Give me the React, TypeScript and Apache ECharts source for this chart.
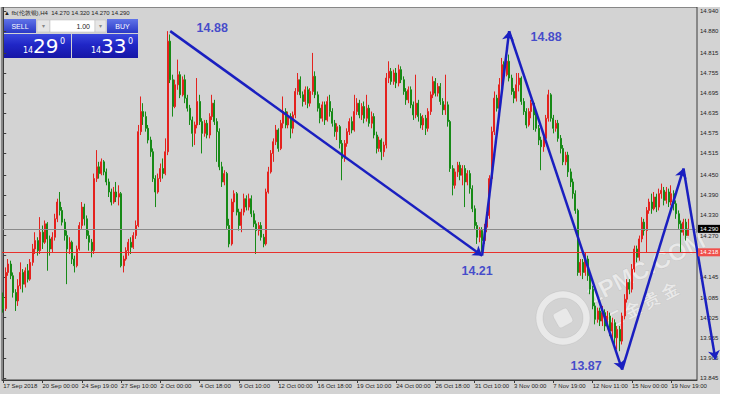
import React, { useEffect, useRef } from 'react';
import * as echarts from 'echarts';

// H4 candles, [open, close, low, high], oldest first
const block1 = [
  [14.087, 14.052, 14.040, 14.100], [14.052, 14.160, 14.045, 14.175], [14.160, 14.185, 14.150, 14.200],
  [14.185, 14.150, 14.140, 14.195], [14.150, 14.100, 14.085, 14.160], [14.100, 14.075, 14.045, 14.110],
  [14.075, 14.120, 14.060, 14.140], [14.120, 14.160, 14.110, 14.190], [14.160, 14.125, 14.100, 14.170],
  [14.125, 14.165, 14.115, 14.175], [14.165, 14.140, 14.130, 14.185], [14.140, 14.190, 14.135, 14.200],
  [14.190, 14.230, 14.180, 14.245], [14.230, 14.255, 14.215, 14.280], [14.255, 14.225, 14.210, 14.265],
  [14.225, 14.280, 14.215, 14.325], [14.280, 14.250, 14.230, 14.300], [14.250, 14.305, 14.245, 14.315],
  [14.305, 14.260, 14.165, 14.310], [14.260, 14.230, 14.210, 14.270], [14.230, 14.265, 14.220, 14.280],
  [14.265, 14.320, 14.255, 14.335], [14.320, 14.370, 14.310, 14.380], [14.370, 14.345, 14.330, 14.400],
  [14.345, 14.310, 14.300, 14.355], [14.310, 14.270, 14.255, 14.320], [14.270, 14.230, 14.125, 14.285],
  [14.230, 14.250, 14.215, 14.265], [14.250, 14.200, 14.185, 14.255], [14.200, 14.180, 14.160, 14.210],
];
const block2 = [
  [14.180, 14.230, 14.175, 14.240], [14.230, 14.300, 14.225, 14.310], [14.300, 14.355, 14.290, 14.370],
  [14.355, 14.320, 14.300, 14.365], [14.320, 14.270, 14.260, 14.330], [14.270, 14.250, 14.225, 14.285],
  [14.250, 14.225, 14.205, 14.260], [14.225, 14.440, 14.215, 14.455], [14.440, 14.475, 14.430, 14.525],
  [14.475, 14.455, 14.440, 14.490], [14.455, 14.490, 14.450, 14.500], [14.490, 14.460, 14.450, 14.495],
  [14.460, 14.430, 14.420, 14.470], [14.430, 14.400, 14.385, 14.440], [14.400, 14.370, 14.360, 14.410],
  [14.370, 14.400, 14.365, 14.415], [14.400, 14.385, 14.370, 14.430], [14.385, 14.395, 14.360, 14.420],
  [14.395, 14.180, 14.175, 14.400], [14.180, 14.200, 14.160, 14.210], [14.200, 14.225, 14.195, 14.235],
  [14.225, 14.250, 14.210, 14.260], [14.250, 14.235, 14.215, 14.265], [14.235, 14.270, 14.230, 14.280],
  [14.270, 14.300, 14.260, 14.315], [14.300, 14.580, 14.295, 14.600], [14.580, 14.640, 14.570, 14.685],
  [14.640, 14.625, 14.600, 14.665], [14.625, 14.590, 14.580, 14.640], [14.590, 14.555, 14.545, 14.600],
];
const block3 = [
  [14.555, 14.520, 14.505, 14.565], [14.520, 14.440, 14.430, 14.530], [14.440, 14.400, 14.355, 14.450],
  [14.400, 14.440, 14.395, 14.455], [14.440, 14.470, 14.430, 14.485], [14.470, 14.455, 14.440, 14.500],
  [14.455, 14.520, 14.450, 14.560], [14.520, 14.850, 14.510, 14.880], [14.850, 14.735, 14.725, 14.870],
  [14.735, 14.655, 14.625, 14.750], [14.655, 14.720, 14.650, 14.735], [14.720, 14.750, 14.705, 14.795],
  [14.750, 14.690, 14.680, 14.760], [14.690, 14.735, 14.685, 14.745], [14.735, 14.680, 14.665, 14.750],
  [14.680, 14.650, 14.640, 14.690], [14.650, 14.615, 14.600, 14.660], [14.615, 14.575, 14.535, 14.625],
  [14.575, 14.600, 14.540, 14.610], [14.600, 14.670, 14.590, 14.740], [14.670, 14.610, 14.600, 14.690],
  [14.610, 14.575, 14.515, 14.620], [14.575, 14.605, 14.565, 14.615], [14.605, 14.570, 14.560, 14.615],
  [14.570, 14.625, 14.560, 14.635], [14.625, 14.665, 14.615, 14.690], [14.665, 14.610, 14.600, 14.675],
  [14.610, 14.580, 14.490, 14.620], [14.580, 14.475, 14.465, 14.590], [14.475, 14.430, 14.415, 14.490],
];
const block4 = [
  [14.430, 14.455, 14.420, 14.465], [14.455, 14.300, 14.290, 14.460], [14.300, 14.245, 14.235, 14.320],
  [14.245, 14.370, 14.240, 14.380], [14.370, 14.395, 14.340, 14.405], [14.395, 14.340, 14.330, 14.400],
  [14.340, 14.300, 14.285, 14.350], [14.300, 14.340, 14.280, 14.350], [14.340, 14.380, 14.330, 14.395],
  [14.380, 14.355, 14.345, 14.390], [14.355, 14.380, 14.345, 14.395], [14.380, 14.335, 14.325, 14.390],
  [14.335, 14.305, 14.295, 14.345], [14.305, 14.285, 14.215, 14.315], [14.285, 14.300, 14.270, 14.310],
  [14.300, 14.265, 14.255, 14.310], [14.265, 14.245, 14.235, 14.275], [14.245, 14.400, 14.240, 14.410],
  [14.400, 14.460, 14.395, 14.475], [14.460, 14.515, 14.455, 14.525], [14.515, 14.550, 14.490, 14.560],
  [14.550, 14.585, 14.540, 14.600], [14.585, 14.530, 14.520, 14.590], [14.530, 14.605, 14.525, 14.615],
  [14.605, 14.640, 14.590, 14.685], [14.640, 14.600, 14.590, 14.650], [14.600, 14.625, 14.590, 14.640],
  [14.625, 14.590, 14.560, 14.635], [14.590, 14.630, 14.575, 14.640], [14.630, 14.700, 14.620, 14.710],
];
const block5 = [
  [14.700, 14.735, 14.690, 14.755], [14.735, 14.690, 14.680, 14.745], [14.690, 14.670, 14.655, 14.700],
  [14.670, 14.705, 14.660, 14.715], [14.705, 14.665, 14.650, 14.715], [14.665, 14.700, 14.655, 14.710],
  [14.700, 14.745, 14.690, 14.815], [14.745, 14.690, 14.680, 14.760], [14.690, 14.650, 14.640, 14.700],
  [14.650, 14.620, 14.605, 14.665], [14.620, 14.660, 14.610, 14.670], [14.660, 14.615, 14.600, 14.670],
  [14.615, 14.670, 14.610, 14.685], [14.670, 14.640, 14.625, 14.690], [14.640, 14.605, 14.595, 14.650],
  [14.605, 14.580, 14.565, 14.615], [14.580, 14.595, 14.555, 14.605], [14.595, 14.545, 14.530, 14.600],
  [14.545, 14.500, 14.435, 14.555], [14.500, 14.545, 14.490, 14.555], [14.545, 14.580, 14.535, 14.590],
  [14.580, 14.610, 14.570, 14.620], [14.610, 14.585, 14.575, 14.625], [14.585, 14.640, 14.580, 14.690],
  [14.640, 14.665, 14.630, 14.680], [14.665, 14.630, 14.620, 14.675], [14.630, 14.655, 14.615, 14.665],
  [14.655, 14.620, 14.605, 14.670], [14.620, 14.650, 14.610, 14.690], [14.650, 14.605, 14.595, 14.660],
];
const block6 = [
  [14.605, 14.625, 14.590, 14.640], [14.625, 14.570, 14.560, 14.635], [14.570, 14.530, 14.515, 14.580],
  [14.530, 14.555, 14.520, 14.565], [14.555, 14.520, 14.495, 14.560], [14.520, 14.540, 14.505, 14.550],
  [14.540, 14.740, 14.530, 14.755], [14.740, 14.760, 14.725, 14.790], [14.760, 14.730, 14.720, 14.770],
  [14.730, 14.755, 14.720, 14.765], [14.755, 14.725, 14.710, 14.770], [14.725, 14.765, 14.715, 14.780],
  [14.765, 14.735, 14.725, 14.775], [14.735, 14.700, 14.690, 14.745], [14.700, 14.675, 14.660, 14.710],
  [14.675, 14.705, 14.665, 14.715], [14.705, 14.660, 14.650, 14.715], [14.660, 14.630, 14.615, 14.670],
  [14.630, 14.665, 14.620, 14.750], [14.665, 14.625, 14.610, 14.675], [14.625, 14.600, 14.590, 14.635],
  [14.600, 14.620, 14.585, 14.630], [14.620, 14.590, 14.570, 14.630], [14.590, 14.640, 14.580, 14.650],
  [14.640, 14.690, 14.630, 14.700], [14.690, 14.730, 14.680, 14.745], [14.730, 14.695, 14.685, 14.740],
  [14.695, 14.715, 14.685, 14.725], [14.715, 14.670, 14.660, 14.725], [14.670, 14.645, 14.630, 14.680],
];
const block7 = [
  [14.645, 14.660, 14.630, 14.750], [14.660, 14.610, 14.595, 14.670], [14.610, 14.470, 14.460, 14.615],
  [14.470, 14.420, 14.390, 14.480], [14.420, 14.460, 14.410, 14.470], [14.460, 14.480, 14.445, 14.490],
  [14.480, 14.450, 14.435, 14.490], [14.450, 14.470, 14.420, 14.480], [14.470, 14.430, 14.355, 14.480],
  [14.430, 14.455, 14.420, 14.465], [14.455, 14.410, 14.395, 14.465], [14.410, 14.350, 14.340, 14.420],
  [14.350, 14.300, 14.290, 14.360], [14.300, 14.265, 14.245, 14.310], [14.265, 14.285, 14.250, 14.295],
  [14.285, 14.255, 14.220, 14.295], [14.255, 14.295, 14.245, 14.305], [14.295, 14.330, 14.280, 14.340],
  [14.330, 14.440, 14.320, 14.450], [14.440, 14.580, 14.430, 14.595], [14.580, 14.680, 14.570, 14.700],
  [14.680, 14.650, 14.640, 14.690], [14.650, 14.720, 14.640, 14.740], [14.720, 14.780, 14.710, 14.800],
  [14.780, 14.750, 14.735, 14.790], [14.750, 14.790, 14.745, 14.820], [14.790, 14.740, 14.730, 14.810],
  [14.740, 14.700, 14.690, 14.750], [14.700, 14.680, 14.665, 14.710], [14.680, 14.720, 14.670, 14.755],
];
const block8 = [
  [14.720, 14.740, 14.700, 14.755], [14.740, 14.670, 14.660, 14.745], [14.670, 14.640, 14.630, 14.680],
  [14.640, 14.600, 14.590, 14.650], [14.600, 14.640, 14.595, 14.650], [14.640, 14.665, 14.620, 14.675],
  [14.665, 14.630, 14.585, 14.670], [14.630, 14.590, 14.580, 14.640], [14.590, 14.555, 14.540, 14.600],
  [14.555, 14.535, 14.465, 14.565], [14.535, 14.560, 14.520, 14.570], [14.560, 14.620, 14.550, 14.630],
  [14.620, 14.690, 14.610, 14.705], [14.690, 14.620, 14.610, 14.695], [14.620, 14.590, 14.575, 14.630],
  [14.590, 14.605, 14.580, 14.615], [14.605, 14.560, 14.550, 14.615], [14.560, 14.530, 14.515, 14.570],
  [14.530, 14.490, 14.480, 14.540], [14.490, 14.510, 14.480, 14.520], [14.510, 14.460, 14.445, 14.520],
  [14.460, 14.430, 14.415, 14.470], [14.430, 14.395, 14.380, 14.440], [14.395, 14.345, 14.335, 14.405],
  [14.345, 14.160, 14.150, 14.350], [14.160, 14.190, 14.150, 14.200], [14.190, 14.160, 14.140, 14.200],
  [14.160, 14.200, 14.150, 14.220], [14.200, 14.150, 14.135, 14.210], [14.150, 14.110, 14.095, 14.160],
];
const block9 = [
  [14.110, 14.060, 14.050, 14.120], [14.060, 14.020, 14.005, 14.070], [14.020, 14.045, 14.010, 14.055],
  [14.045, 14.015, 14.000, 14.055], [14.015, 14.040, 14.000, 14.060], [14.040, 14.000, 13.985, 14.050],
  [14.000, 14.030, 13.990, 14.045], [14.030, 13.985, 13.970, 14.040], [13.985, 14.010, 13.960, 14.025],
  [14.010, 13.965, 13.945, 14.020], [13.965, 13.990, 13.930, 14.000], [13.990, 13.955, 13.925, 14.000],
  [13.955, 14.030, 13.945, 14.040], [14.030, 14.080, 14.020, 14.095], [14.080, 14.130, 14.070, 14.140],
  [14.130, 14.110, 14.095, 14.140], [14.110, 14.170, 14.100, 14.185], [14.170, 14.230, 14.160, 14.240],
  [14.230, 14.205, 14.190, 14.240], [14.205, 14.260, 14.195, 14.270], [14.260, 14.310, 14.250, 14.325],
  [14.310, 14.285, 14.270, 14.320], [14.285, 14.345, 14.220, 14.355], [14.345, 14.370, 14.335, 14.380],
  [14.370, 14.350, 14.335, 14.395], [14.350, 14.385, 14.345, 14.400], [14.385, 14.355, 14.340, 14.395],
  [14.355, 14.395, 14.345, 14.410], [14.395, 14.405, 14.380, 14.425], [14.405, 14.375, 14.360, 14.415],
];
const block10 = [
  [14.375, 14.400, 14.365, 14.415], [14.400, 14.370, 14.355, 14.410], [14.370, 14.395, 14.360, 14.420],
  [14.395, 14.365, 14.345, 14.405], [14.365, 14.335, 14.320, 14.375], [14.335, 14.305, 14.290, 14.345],
  [14.305, 14.280, 14.220, 14.315], [14.280, 14.310, 14.270, 14.320], [14.310, 14.270, 14.255, 14.320],
  [14.270, 14.290, 14.270, 14.320],
];

// time scale labels, one every 16 bars
const timeLabels = [
  '17 Sep 2018', '20 Sep 00:00', '24 Sep 19:00', '27 Sep 10:00', '2 Oct 00:00', '4 Oct 18:00',
  '9 Oct 10:00', '12 Oct 00:00', '16 Oct 18:00', '19 Oct 10:00', '24 Oct 00:00', '26 Oct 18:00',
  '31 Oct 10:00', '3 Nov 00:00', '7 Nov 19:00', '12 Nov 11:00', '15 Nov 00:00', '19 Nov 19:00',
];
const BARS_PER_LABEL = 16;
const SLOT_COUNT = 283;

// price scale
const priceLabels = [
  14.940, 14.880, 14.815, 14.755, 14.695, 14.635, 14.575, 14.515, 14.450,
  14.390, 14.330, 14.270, 14.145, 14.085, 14.025, 13.965, 13.905, 13.845,
];
const priceTickMarks = [...priceLabels, 14.210];
const PRICE_MIN = 13.839;
const PRICE_MAX = 14.952;

const bidPrice = 14.290;
const askPrice = 14.330;
const alertLevel = 14.218;
const symbolTitle = 'fb(伦敦银),H4';
const lotSize = '1.00';

// hand-drawn swing lines: vertex bar positions and prices
const swingBars = [68, 195, 206, 252, 277, 290];
const swingPrices = [14.88, 14.21, 14.88, 13.87, 14.47, 13.9];
const swingTagged = [0, 1, 2, 3];

const RED = '#e4221e';
const GREEN = '#178a17';
const BLUE = '#1a1fc0';
const FONT = '"Liberation Sans", Arial, sans-serif';

function splitQuote(p: number) {
  const s = p.toFixed(3);
  return { head: s.slice(0, 2), big: s.slice(3, 5), tail: s.slice(5) };
}

function buildOption() {
  const candles = [
    ...block1, ...block2, ...block3, ...block4, ...block5,
    ...block6, ...block7, ...block8, ...block9, ...block10,
  ];
  const slots = Array.from({ length: SLOT_COUNT }, (_, i) => String(i));
  const showSlot = (i: number) => i % BARS_PER_LABEL === 0 && i / BARS_PER_LABEL < timeLabels.length;

  const segments = [];
  for (let k = 0; k + 1 < swingBars.length; k++) {
    segments.push({ coords: [[swingBars[k], swingPrices[k]], [swingBars[k + 1], swingPrices[k + 1]]] });
  }
  const tagOffsets = [[42, -3], [-5, 15], [37, 6], [-36, -4]];
  const tags = swingTagged.map((v, k) => ({
    value: [swingBars[v], swingPrices[v]],
    label: { show: true, offset: tagOffsets[k], formatter: swingPrices[v].toFixed(2) },
  }));

  const last = candles[candles.length - 1];
  const header = `▲ ${symbolTitle}  ${last[0].toFixed(3)} ${last[3].toFixed(3)} ${last[2].toFixed(3)} ${last[1].toFixed(3)}`;
  const bid = splitQuote(bidPrice);
  const ask = splitQuote(askPrice);

  const btnGrad = () => new echarts.graphic.LinearGradient(0, 0, 0, 1, [
    { offset: 0, color: '#6074e8' }, { offset: 1, color: '#2a38c6' },
  ]);
  const boxGrad = () => new echarts.graphic.LinearGradient(0, 0, 0, 1, [
    { offset: 0, color: '#3a48de' }, { offset: 0.45, color: '#2026c6' }, { offset: 1, color: '#1616a6' },
  ]);

  const quoteBox = (x: number, w: number, q: { head: string; big: string; tail: string }) => [
    { type: 'rect', shape: { x, y: 34, width: w, height: 24 }, style: { fill: boxGrad() } },
    { type: 'text', style: { text: q.head, x: x + 19, y: 50.5, fill: '#fff', fontSize: 8, fontFamily: 'DejaVu Sans', align: 'left', verticalAlign: 'middle' } },
    { type: 'text', style: { text: q.big, x: x + 29, y: 46, fill: '#fff', fontSize: 20, fontFamily: 'DejaVu Sans', align: 'left', verticalAlign: 'middle' } },
    { type: 'text', style: { text: q.tail, x: x + 56, y: 41, fill: '#fff', fontSize: 8, fontFamily: 'DejaVu Sans', align: 'left', verticalAlign: 'middle' } },
  ];

  const panel = [
    { type: 'text', style: { text: header, x: 4, y: 12.5, fill: '#1e1e1e', fontSize: 6, fontFamily: FONT, align: 'left', verticalAlign: 'middle' } },
    { type: 'rect', shape: { x: 4, y: 19, width: 32, height: 14 }, style: { fill: btnGrad() } },
    { type: 'text', style: { text: 'SELL', x: 20, y: 26, fill: '#fff', fontSize: 7, fontFamily: FONT, align: 'center', verticalAlign: 'middle' } },
    { type: 'rect', shape: { x: 37, y: 20, width: 13, height: 12 }, style: { fill: '#e6e6e6', stroke: '#b8b8b8', lineWidth: 0.5 } },
    { type: 'text', style: { text: '▾', x: 43.5, y: 26, fill: '#888', fontSize: 6, fontFamily: FONT, align: 'center', verticalAlign: 'middle' } },
    { type: 'rect', shape: { x: 50, y: 20, width: 45, height: 12 }, style: { fill: '#ffffff', stroke: '#b8b8b8', lineWidth: 0.5 } },
    { type: 'text', style: { text: lotSize, x: 90, y: 26, fill: '#222', fontSize: 7, fontFamily: FONT, align: 'right', verticalAlign: 'middle' } },
    { type: 'rect', shape: { x: 95, y: 20, width: 11, height: 12 }, style: { fill: '#e6e6e6', stroke: '#b8b8b8', lineWidth: 0.5 } },
    { type: 'text', style: { text: '▾', x: 100.5, y: 26, fill: '#888', fontSize: 6, fontFamily: FONT, align: 'center', verticalAlign: 'middle' } },
    { type: 'rect', shape: { x: 107, y: 19, width: 31, height: 14 }, style: { fill: btnGrad() } },
    { type: 'text', style: { text: 'BUY', x: 122.5, y: 26, fill: '#fff', fontSize: 7, fontFamily: FONT, align: 'center', verticalAlign: 'middle' } },
    ...quoteBox(4, 67, bid),
    ...quoteBox(72, 66, ask),
  ];

  const wm = 'rgba(255,255,255,0.5)';
  const watermark = {
    type: 'group',
    z: 50,
    silent: true,
    children: [
      { type: 'ring', shape: { cx: 563, cy: 318, r: 27, r0: 20 }, style: { fill: wm, stroke: 'rgba(150,150,150,0.3)', lineWidth: 0.6 } },
      { type: 'rect', x: 563, y: 318, rotation: 0.5, shape: { x: -8, y: -8, width: 16, height: 16, r: 3 }, style: { fill: wm, stroke: 'rgba(150,150,150,0.3)', lineWidth: 0.6 } },
      { type: 'text', x: 588, y: 297, rotation: 0.47, style: { text: '1PMC.COM', fill: wm, stroke: 'rgba(140,140,140,0.3)', lineWidth: 0.6, fontSize: 24, fontWeight: 'bold', fontFamily: FONT, align: 'left', verticalAlign: 'middle' } },
      { type: 'text', x: 606, y: 322, rotation: 0.47, style: { text: '汇 金 贵 金', fill: wm, stroke: 'rgba(140,140,140,0.3)', lineWidth: 0.5, fontSize: 17, fontWeight: 'bold', fontFamily: '"Noto Sans CJK SC", sans-serif', align: 'left', verticalAlign: 'middle' } },
    ],
  };

  return {
    animation: false,
    backgroundColor: '#d3d3d3',
    grid: { left: 2, top: 7, width: 695, height: 373, show: true, borderColor: '#3c3c3c', borderWidth: 1, backgroundColor: 'transparent' },
    xAxis: [
      {
        type: 'category',
        data: slots,
        boundaryGap: true,
        axisLine: { show: true, lineStyle: { color: '#3c3c3c', width: 1 } },
        axisTick: { show: true, interval: showSlot, alignWithLabel: true, length: 3, lineStyle: { color: '#3c3c3c' } },
        axisLabel: {
          interval: showSlot,
          formatter: (_v: string, i: number) => timeLabels[i / BARS_PER_LABEL] ?? '',
          align: 'left',
          fontSize: 6,
          color: '#1e1e1e',
          fontFamily: FONT,
          margin: 3,
        },
        splitLine: { show: false },
      },
      { type: 'value', min: -0.5, max: SLOT_COUNT - 0.5, show: false },
    ],
    yAxis: {
      type: 'value',
      position: 'right',
      min: PRICE_MIN,
      max: PRICE_MAX,
      axisLine: { show: true, lineStyle: { color: '#3c3c3c', width: 1 } },
      axisTick: { show: true, length: 3, customValues: priceTickMarks, lineStyle: { color: '#3c3c3c' } },
      axisLabel: {
        customValues: priceLabels,
        formatter: (v: number) => v.toFixed(3),
        fontSize: 6,
        color: '#1e1e1e',
        fontFamily: FONT,
        margin: 3,
      },
      splitLine: { show: false },
    },
    graphic: [...panel, watermark],
    series: [
      {
        type: 'candlestick',
        xAxisIndex: 0,
        yAxisIndex: 0,
        data: candles,
        barWidth: 1.5,
        itemStyle: { color: RED, color0: GREEN, borderColor: RED, borderColor0: GREEN, borderWidth: 1 },
        markLine: {
          silent: true,
          symbol: ['none', 'none'],
          data: [
            {
              yAxis: bidPrice,
              lineStyle: { color: '#8a8a8a', width: 1, type: 'solid' },
              label: { show: true, position: 'end', formatter: bidPrice.toFixed(3), backgroundColor: '#000', color: '#fff', fontSize: 6, fontFamily: FONT, padding: [1, 2], distance: 1 },
            },
            {
              yAxis: alertLevel,
              lineStyle: { color: '#e8302c', width: 1, type: 'solid' },
              label: { show: true, position: 'end', formatter: alertLevel.toFixed(3), backgroundColor: '#f0504c', color: '#fff', fontSize: 6, fontFamily: FONT, padding: [1, 2], distance: 1 },
            },
          ],
        },
      },
      {
        type: 'lines',
        coordinateSystem: 'cartesian2d',
        xAxisIndex: 1,
        yAxisIndex: 0,
        clip: false,
        symbol: ['none', 'arrow'],
        symbolSize: 9,
        lineStyle: { color: BLUE, width: 2.5, opacity: 1, curveness: 0 },
        data: segments,
        z: 5,
      },
      {
        type: 'scatter',
        xAxisIndex: 1,
        yAxisIndex: 0,
        symbolSize: 0,
        clip: false,
        label: { position: 'inside', fontSize: 12.5, fontWeight: 'bold', color: '#1e28c8', fontFamily: FONT },
        data: tags,
        z: 6,
      },
    ],
  };
}

export default function App() {
  const ref = useRef<HTMLDivElement>(null);
  useEffect(() => {
    if (!ref.current) return;
    const chart = echarts.init(ref.current, undefined, { renderer: 'svg' });
    chart.setOption(buildOption() as any);
    return () => chart.dispose();
  }, []);
  return (
    <div style={{ position: 'absolute', left: 0, top: 0, width: 737, height: 405, background: '#fff' }}>
      <div ref={ref} style={{ position: 'absolute', left: 0, top: 0, width: 737, height: 405 }} />
      <div style={{ position: 'absolute', left: 0, top: 0, width: 737, height: 7, background: '#fff' }} />
      <div style={{ position: 'absolute', left: 720, top: 0, width: 17, height: 405, background: '#fff' }} />
      <div style={{ position: 'absolute', left: 0, top: 394, width: 737, height: 11, background: '#fff' }} />
    </div>
  );
}
